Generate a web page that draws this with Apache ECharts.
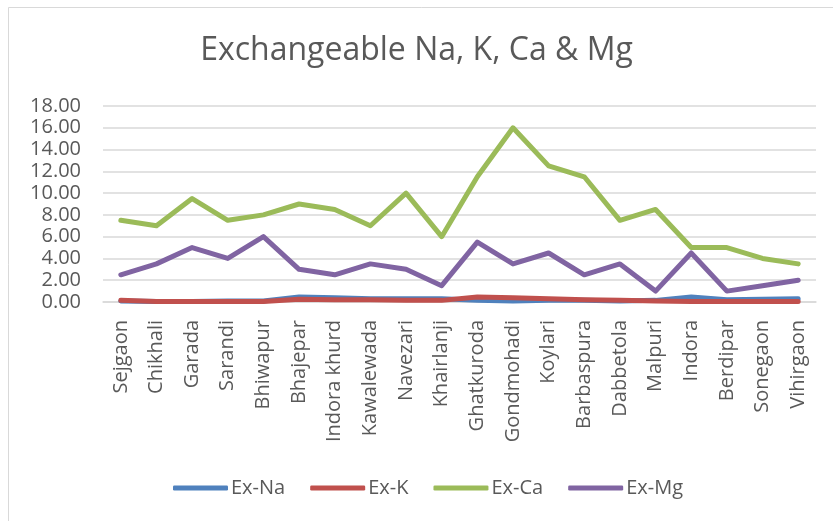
<!DOCTYPE html>
<html>
<head>
<meta charset="utf-8">
<title>Exchangeable Na, K, Ca & Mg</title>
<script src="https://cdn.jsdelivr.net/npm/echarts@6/dist/echarts.min.js"></script>
<style>
  html, body { margin: 0; padding: 0; background: #ffffff; }
  #chart { width: 833px; height: 521px; }
</style>
</head>
<body>
<div id="chart"></div>
<script>
// Villages sampled
const villages = [
  'Sejgaon', 'Chikhali', 'Garada', 'Sarandi', 'Bhiwapur', 'Bhajepar',
  'Indora khurd', 'Kawalewada', 'Navezari', 'Khairlanji', 'Ghatkuroda',
  'Gondmohadi', 'Koylari', 'Barbaspura', 'Dabbetola', 'Malpuri', 'Indora',
  'Berdipar', 'Sonegaon', 'Vihirgaon'
];

// Exchangeable cations per village
const exNa = [0.10, 0.05, 0.05, 0.10, 0.10, 0.45, 0.40, 0.30, 0.30, 0.30,
              0.15, 0.10, 0.15, 0.15, 0.10, 0.15, 0.45, 0.20, 0.25, 0.30];
const exK  = [0.15, 0.05, 0.05, 0.05, 0.05, 0.25, 0.20, 0.20, 0.15, 0.15,
              0.45, 0.40, 0.30, 0.20, 0.15, 0.10, 0.05, 0.05, 0.05, 0.05];
const exCa = [7.5, 7.0, 9.5, 7.5, 8.0, 9.0, 8.5, 7.0, 10.0, 6.0,
              11.5, 16.0, 12.5, 11.5, 7.5, 8.5, 5.0, 5.0, 4.0, 3.5];
const exMg = [2.5, 3.5, 5.0, 4.0, 6.0, 3.0, 2.5, 3.5, 3.0, 1.5,
              5.5, 3.5, 4.5, 2.5, 3.5, 1.0, 4.5, 1.0, 1.5, 2.0];

const seriesNames = ['Ex-Na', 'Ex-K', 'Ex-Ca', 'Ex-Mg'];
const seriesData = [exNa, exK, exCa, exMg];
const seriesColors = ['#4F81BD', '#C0504D', '#9BBB59', '#8064A2'];

const textColor = '#595959';
const fontFamily = '"Open Sans", "Noto Sans", sans-serif';

const chart = echarts.init(document.getElementById('chart'), null, { renderer: 'canvas' });

chart.setOption({
  backgroundColor: '#ffffff',
  animation: false,
  graphic: [{
    type: 'rect',
    shape: { x: 8.5, y: 7.5, width: 900, height: 600 },
    style: { fill: 'none', stroke: '#d9d9d9', lineWidth: 1 },
    silent: true
  }],
  title: {
    text: 'Exchangeable Na, K, Ca & Mg',
    left: 'center',
    top: 35,
    // left padding nudges the centred title over the chart frame
    padding: [0, 0, 0, 22],
    textStyle: {
      color: textColor,
      fontFamily: fontFamily,
      fontWeight: 'normal',
      fontSize: 32
    }
  },
  legend: {
    data: seriesNames,
    left: 168,
    top: 473,
    icon: 'roundRect',
    itemWidth: 55,
    itemHeight: 5,
    itemGap: 25,
    textStyle: {
      color: textColor,
      fontFamily: fontFamily,
      fontSize: 20,
      padding: [0, 0, 0, -2]
    }
  },
  grid: {
    left: 103,
    right: 17,
    top: 106,
    bottom: 219,
    containLabel: false
  },
  xAxis: {
    type: 'category',
    data: villages,
    boundaryGap: true,
    axisLine: { show: true, lineStyle: { color: '#d9d9d9', width: 1.5 } },
    axisTick: { show: false },
    axisLabel: {
      rotate: 90,
      interval: 0,
      margin: 18,
      color: textColor,
      fontFamily: fontFamily,
      fontSize: 20
    }
  },
  yAxis: {
    type: 'value',
    min: 0,
    max: 18,
    interval: 2,
    axisLine: { show: false },
    axisTick: { show: false },
    splitLine: { lineStyle: { color: '#d9d9d9', width: 1.5 } },
    axisLabel: {
      margin: 22,
      color: textColor,
      fontFamily: fontFamily,
      fontSize: 20,
      formatter: v => v.toFixed(2)
    }
  },
  series: seriesNames.map((name, i) => ({
    name: name,
    type: 'line',
    data: seriesData[i],
    symbol: 'none',
    smooth: false,
    color: seriesColors[i],
    lineStyle: { width: 5, cap: 'round', join: 'round', color: seriesColors[i] },
    itemStyle: { color: seriesColors[i] }
  }))
});
</script>
</body>
</html>
